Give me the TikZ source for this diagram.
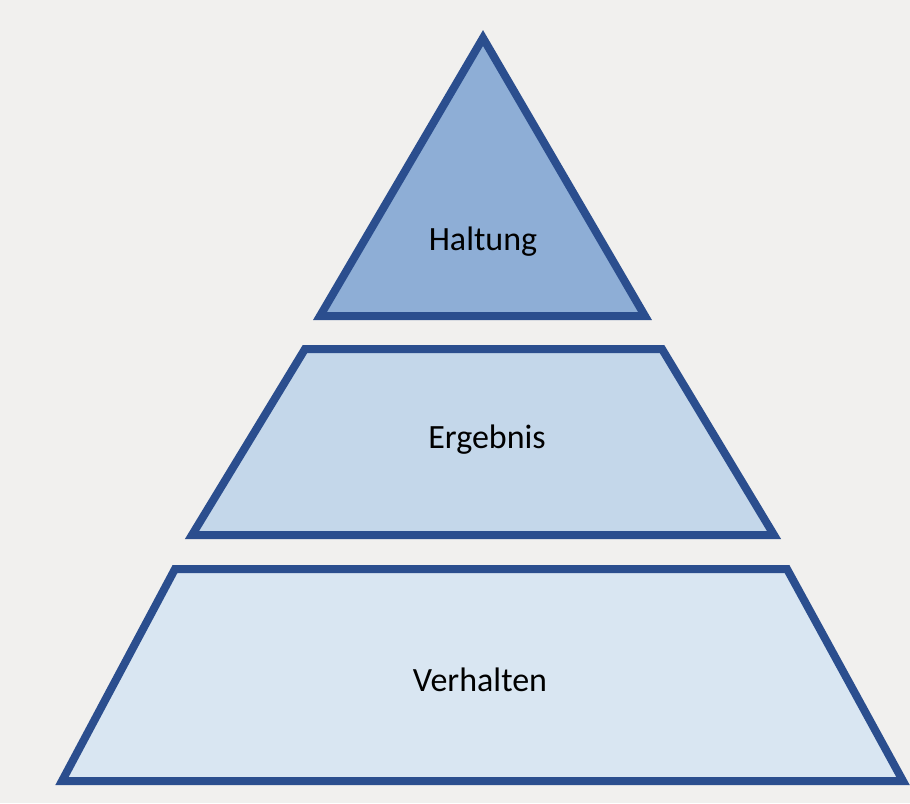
\documentclass[tikz,border=0pt]{standalone}
\usepackage{fontspec}
\setmainfont{Carlito}
\definecolor{bg}{HTML}{F1F0EE}
\definecolor{edge}{HTML}{2B4E8E}
\definecolor{topfill}{HTML}{8EAED6}
\definecolor{midfill}{HTML}{C4D7EA}
\definecolor{lowfill}{HTML}{D9E6F2}
\tikzset{
  layer/.style={draw=edge, line width=4pt, line join=miter},
  label/.style={font=\fontsize{17}{20}\selectfont, text=black}
}
\begin{document}
\begin{tikzpicture}[x=0.5pt,y=-0.5pt]
\fill[bg] (0,0) rectangle (910,803);
\useasboundingbox (0,0) rectangle (910,803);
% top triangle
\draw[layer, fill=topfill] (483,38) -- (645,316) -- (320,316) -- cycle;
% middle trapezoid
\draw[layer, fill=midfill] (305,349) -- (662,349) -- (774,535) -- (192,535) -- cycle;
% bottom trapezoid
\draw[layer, fill=lowfill] (175,569) -- (787,569) -- (903,781) -- (62,781) -- cycle;
\node[label] (haltung) at (483,242) {Haltung};
\node[label] (ergebnis) at (487,440) {Ergebnis};
\node[label] (verhalten) at (480,680) {Verhalten};
\end{tikzpicture}
\end{document}
